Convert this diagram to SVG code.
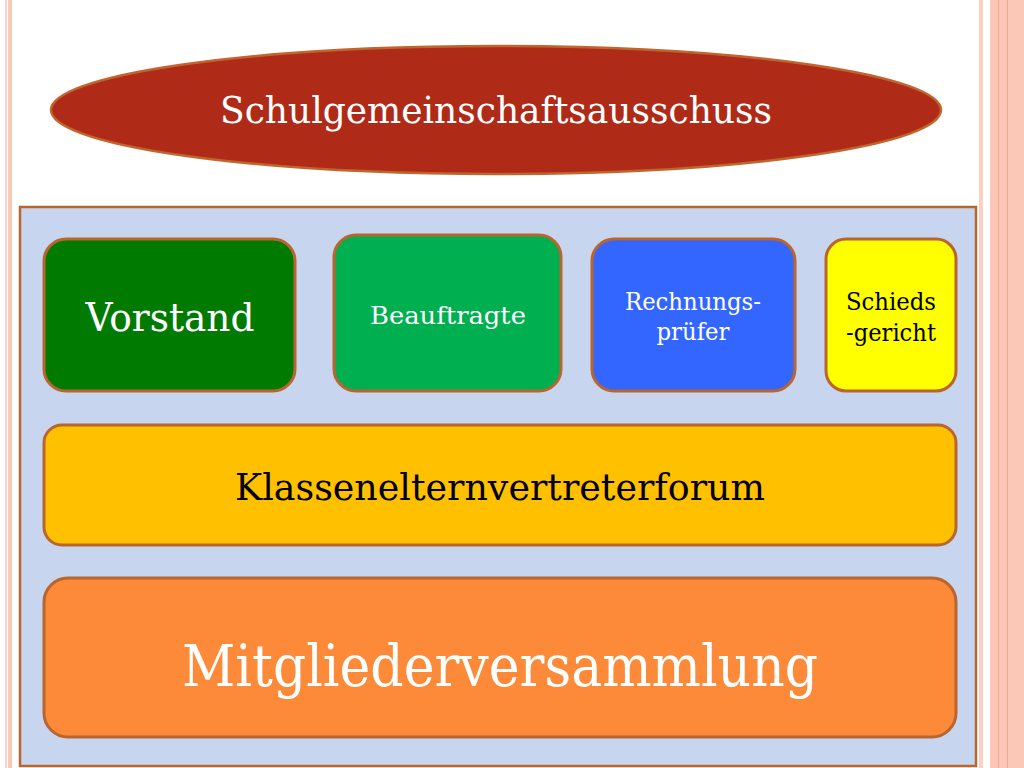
<svg xmlns="http://www.w3.org/2000/svg" width="1024" height="768" viewBox="0 0 1024 768">
<style>
.t{font-family:"DejaVu Serif","Liberation Serif",serif;text-anchor:middle}
.w{fill:#ffffff}
.k{fill:#000000}
.box{stroke:#b8652f;stroke-width:3}
</style>
<rect width="1024" height="768" fill="#ffffff"/>
<rect x="5" y="0" width="2" height="768" fill="#fcd8cc"/>
<rect x="8" y="0" width="4" height="768" fill="#fbc8b7"/>
<rect x="979" y="0" width="4" height="768" fill="#fcd0c0"/>
<rect x="990" y="0" width="34" height="768" fill="#fbc8b7"/>
<rect x="998" y="0" width="1" height="768" fill="#f3a98f"/>
<rect x="1007" y="0" width="1" height="768" fill="#f3a98f"/>
<g id="panel"><rect x="20" y="207" width="956" height="559" fill="#c8d5ee" stroke="#b8652f" stroke-width="2.5"/></g>
<g id="ellipse"><ellipse cx="496" cy="110" rx="445" ry="64" fill="#b02a18" stroke="#c0652e" stroke-width="2.5"/>
<text class="t w" x="496" y="123" font-size="37" textLength="552" lengthAdjust="spacingAndGlyphs">Schulgemeinschaftsausschuss</text></g>
<g id="vorstand"><rect class="box" x="44" y="239" width="251" height="152" rx="22" fill="#007a00"/>
<text class="t w" x="170" y="331" font-size="39" textLength="169" lengthAdjust="spacingAndGlyphs">Vorstand</text></g>
<g id="beauftragte"><rect class="box" x="334" y="235" width="227" height="156" rx="22" fill="#00b050"/>
<text class="t w" x="448" y="324" font-size="25" textLength="156" lengthAdjust="spacingAndGlyphs">Beauftragte</text></g>
<g id="rechnungs"><rect class="box" x="592" y="239" width="203" height="152" rx="22" fill="#3366ff"/>
<text class="t w" x="693" y="310" font-size="25" textLength="136" lengthAdjust="spacingAndGlyphs">Rechnungs-</text>
<text class="t w" x="693" y="340" font-size="25" textLength="73" lengthAdjust="spacingAndGlyphs">prüfer</text></g>
<g id="schieds"><rect class="box" x="826" y="239" width="130" height="152" rx="20" fill="#ffff00"/>
<text class="t k" x="891" y="310" font-size="25" textLength="90" lengthAdjust="spacingAndGlyphs">Schieds</text>
<text class="t k" x="891" y="341" font-size="25" textLength="90" lengthAdjust="spacingAndGlyphs">-gericht</text></g>
<g id="klassen"><rect class="box" x="44" y="425" width="912" height="120" rx="18" fill="#ffc000"/>
<text class="t k" x="500" y="500" font-size="37" textLength="530" lengthAdjust="spacingAndGlyphs">Klassenelternvertreterforum</text></g>
<g id="mitglieder"><rect class="box" x="44" y="578" width="912" height="159" rx="24" fill="#fd8a38"/>
<text class="t w" x="500" y="686" font-size="58" textLength="636" lengthAdjust="spacingAndGlyphs">Mitgliederversammlung</text></g>
<g id="connectors"></g>
</svg>
